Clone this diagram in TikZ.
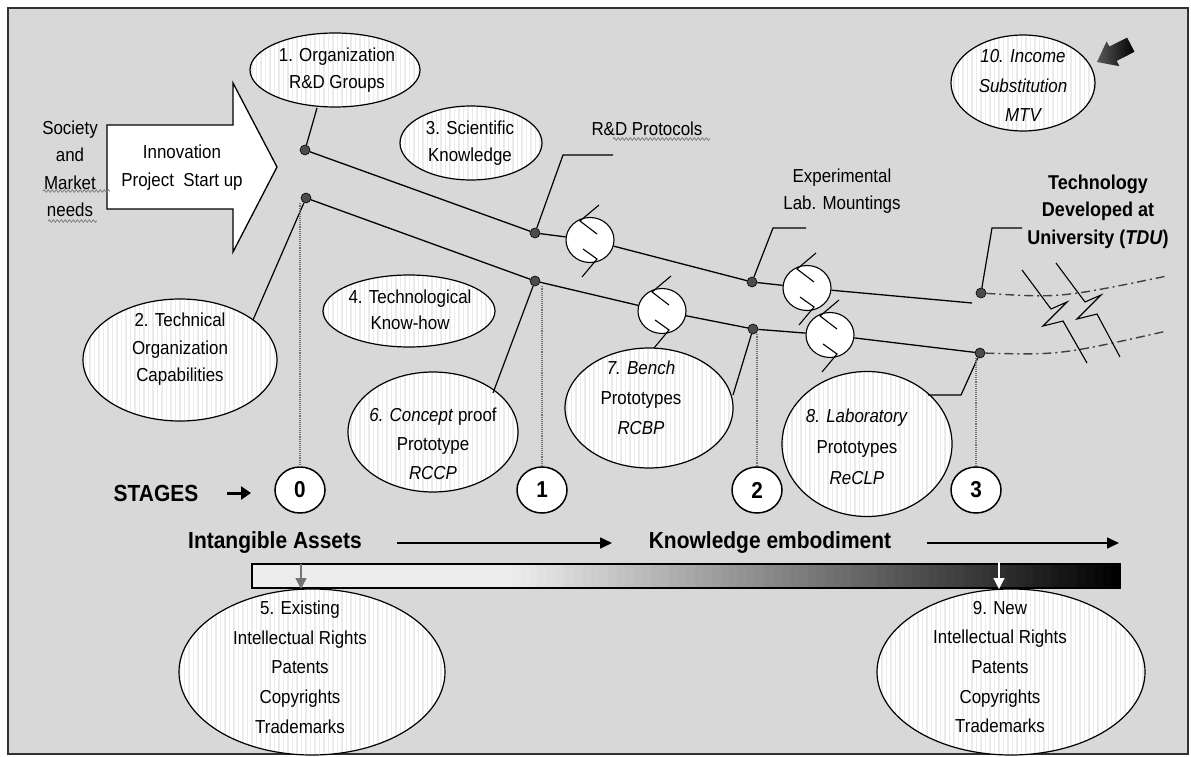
\documentclass[tikz,border=0pt]{standalone}
\usepackage{fontspec}
\setmainfont{Liberation Sans}[FakeStretch=0.9]
\usetikzlibrary{shapes.geometric,patterns.meta,arrows.meta,decorations.pathmorphing,calc}
\definecolor{bg}{RGB}{216,216,216}
\definecolor{frm}{RGB}{50,50,50}
\newcommand\vhooks[1]{%
  \draw[hook] ($(#1)+(9,-35)$) -- ($(#1)+(-10,-19)$) -- ($(#1)+(7,-6)$);
  \draw[hook] ($(#1)+(-7,9)$) -- ($(#1)+(7,19)$) -- ($(#1)+(-8,37)$);}
\tikzset{
  bub/.style={ellipse, draw=black, line width=1.2, preaction={fill=white},
    pattern={Lines[angle=90,distance=4.5pt,line width=1.5pt]}, pattern color=black!8, inner sep=0},
  txt/.style={align=center, inner sep=0, font=\fontsize{18.8}{28}\selectfont},
  btxt/.style={align=center, inner sep=0, font=\bfseries\fontsize{23.3}{26}\selectfont},
  dotn/.style={circle, draw=black, fill=black!70, minimum size=10, inner sep=0, line width=0.6},
  valve/.style={ellipse, draw=black, fill=white, minimum width=48, minimum height=45, inner sep=0, line width=1.1},
  stage/.style={ellipse, draw=black, fill=white, minimum width=50, minimum height=46, inner sep=0, line width=1.5,
    font=\bfseries\fontsize{23}{23}\selectfont},
  link/.style={line width=1.3},
  hook/.style={line width=1.1},
  con/.style={line width=1.2},
  dotl/.style={densely dotted, line width=1.1, black!55},
  dd/.style={line width=1.4, black!75, dash pattern=on 9pt off 4pt on 2pt off 4pt},
  sq/.style={decorate, decoration={snake, amplitude=1.3pt, segment length=4pt}, black!50, line width=0.8},
  barr/.style={line width=1.6, -{Triangle[length=12,width=11]}}
}
\begin{document}
\begin{tikzpicture}[x=1pt,y=-1pt]
\useasboundingbox (0,0) rectangle (1191,757);
\fill[white] (0,0) rectangle (1191,757);
\draw[frm, fill=bg, line width=1.5] (8,8) rectangle (1188,754);

% big arrow
\draw[line width=1.3, fill=white] (107,125) -- (233,125) -- (233,83) -- (277,167) -- (233,252) -- (233,209) -- (107,209) -- cycle;
\node[txt] (inn) at (182,168) {Innovation\\Project~~Start up};
\node[txt, font=\fontsize{18.8}{27.5}\selectfont] (soc) at (70,169) {Society\\and\\Market\\needs};
\draw[sq] (43,191) -- (110,191);
\draw[sq] (48,221) -- (97,221);

% dark arrow
\shade[left color=black!65, right color=black] (1097,62) -- (1106.6,41.4) -- (1109.3,46.5) -- (1127.1,37.6) -- (1134.5,51.8) -- (1116.7,60.9) -- (1119.4,66.2) -- cycle;

% bubbles
\node[bub, minimum width=170, minimum height=74] (e1) at (335,70) {};
\node[txt, font=\fontsize{18.8}{27}\selectfont] (e1t) at (337,70.5) {1. Organization\\R\&D Groups};
\node[bub, minimum width=142, minimum height=74] (e3) at (471,143) {};
\node[txt, font=\fontsize{18.8}{27}\selectfont] (e3t) at (470,143.5) {3. Scientific\\Knowledge};
\node[bub, minimum width=144, minimum height=96] (e10) at (1023,83) {};
\node[txt, font=\itshape\fontsize{18.8}{29.5}\selectfont] (e10t) at (1023,85.5) {10. Income\\Substitution\\MTV};
\node[bub, minimum width=194, minimum height=122] (e2) at (180,360) {};
\node[txt, font=\fontsize{18.8}{27.5}\selectfont] (e2t) at (180,349.5) {2. Technical\\Organization\\Capabilities};
\node[bub, minimum width=172, minimum height=72] (e4) at (409,311) {};
\node[txt, font=\fontsize{18.8}{26}\selectfont] (e4t) at (410,310) {4. Technological\\Know-how};
\node[bub, minimum width=170, minimum height=120] (e6) at (433,432) {};
\node[txt, font=\fontsize{18.8}{29}\selectfont] (e6t) at (433,444) {\textit{6. Concept} proof\\Prototype\\\textit{RCCP}};
\node[bub, minimum width=168, minimum height=120] (e7) at (649,408) {};
\node[txt, font=\fontsize{18.8}{30}\selectfont] (e7t) at (641,398) {\textit{7. Bench}\\Prototypes\\\textit{RCBP}};
\node[bub, minimum width=170, minimum height=145] (e8) at (867,444) {};
\node[txt, font=\fontsize{18.8}{31}\selectfont] (e8t) at (857,447) {\textit{8. Laboratory}\\Prototypes\\\textit{ReCLP}};
\node[bub, minimum width=266, minimum height=166] (e5) at (312,672) {};
\node[txt, font=\fontsize{18.8}{29.7}\selectfont] (e5t) at (300,667) {5. Existing\\Intellectual Rights\\Patents\\Copyrights\\Trademarks};
\node[bub, minimum width=268, minimum height=166] (e9) at (1011,672) {};
\node[txt, font=\fontsize{18.8}{29.7}\selectfont] (e9t) at (1000,667) {9. New\\Intellectual Rights\\Patents\\Copyrights\\Trademarks};

% free labels
\node[txt] (rdp) at (647,129) {R\&D~Protocols};
\draw[sq] (613,139) -- (710,139);
\node[txt, font=\fontsize{18.8}{27}\selectfont] (exp) at (842,191.5) {Experimental\\Lab. Mountings};
\node[txt, font=\bfseries\fontsize{20}{27.5}\selectfont] (tdu) at (1098,211.5) {Technology\\Developed at\\University (\textit{TDU})};

% chain nodes
\node[dotn] (d1) at (305,150) {};
\node[dotn] (u1) at (535,233) {};
\node[valve] (v1) at (590,240) {};
\node[dotn] (u2) at (752,282) {};
\node[valve] (v2) at (807,288) {};
\coordinate (ue) at (972,303);
\node[dotn] (u3) at (981,293) {};
\node[dotn] (d2) at (306,198) {};
\node[dotn] (l1) at (535,281) {};
\node[valve] (v3) at (662,311) {};
\node[dotn] (l2) at (753,329) {};
\node[valve] (v4) at (830,335) {};
\node[dotn] (l3) at (980,353) {};

\draw[link] (d1) -- (u1) -- (v1) -- (u2) -- (v2) -- (ue);
\draw[link] (d2) -- (l1) -- (v3) -- (l2) -- (v4) -- (l3);
\vhooks{v1}\vhooks{v2}\vhooks{v3}\vhooks{v4}

% dash-dot continuation
\coordinate (ue1) at (1167,276);
\coordinate (le1) at (1167,331);
\draw[dd] (u3) .. controls (1060,298) .. (ue1);
\draw[dd] (l3) .. controls (1060,355) .. (le1);

% break marks
\draw[line width=1.1] (1022,270) -- (1051,309) -- (1067,302) -- (1043,326) -- (1063,321) -- (1087,363);
\draw[line width=1.1] (1056,263) -- (1085,302) -- (1101,295) -- (1077,319) -- (1097,314) -- (1120,357);

% connectors
\coordinate (k1) at (317,108);
\draw[con] (k1) -- (d1);
\coordinate (k2) at (253,320);
\draw[con] (k2) -- (d2);
\coordinate (r1) at (563,155); \coordinate (r2) at (613,155);
\draw[con] (u1) -- (r1) -- (r2);
\coordinate (x1) at (773,228); \coordinate (x2) at (806,228);
\draw[con] (u2) -- (x1) -- (x2);
\coordinate (t1) at (992,228); \coordinate (t2) at (1022,228);
\draw[con] (u3) -- (t1) -- (t2);
\coordinate (k6) at (493,393);
\draw[con] (k6) -- (l1);
\coordinate (k7) at (733,395);
\draw[con] (k7) -- (l2);
\coordinate (k8a) at (928,395); \coordinate (k8b) at (961,395);
\draw[con] (k8a) -- (k8b) -- (l3);

% stages
\node[stage] (c0) at (300,490) {0};
\node[stage] (c1) at (542,490) {1};
\node[stage] (c2) at (757,490) {2};
\node[stage] (c3) at (976,490) {3};
\draw[dotl] (c0.north |- d2.south) -- (c0.north);
\draw[dotl] (c1.north |- l1.south) -- (c1.north);
\draw[dotl] (c2.north |- l2.south) -- (c2.north);
\draw[dotl] (c3.north |- l3.south) -- (c3.north);
\node[btxt] (stg) at (156,493) {STAGES};
\coordinate (sa) at (227,493); \coordinate (sb) at (251,493);
\draw[line width=3, -{Triangle[length=10,width=13]}] (sa) -- (sb);

% bottom labels
\node[btxt] (ia) at (275,543) {Intangible Assets};
\node[btxt] (ke) at (770,543) {Knowledge embodiment};
\coordinate (a1) at (397,543); \coordinate (a2) at (612,543);
\coordinate (a3) at (927,543); \coordinate (a4) at (1119,543);
\draw[barr] (a1) -- (a2);
\draw[barr] (a3) -- (a4);

% gradient bar
\foreach \i in {0,...,99} {
  \pgfmathsetmacro\xa{252+\i*8.68}
  \pgfmathsetmacro\tt{(\i+0.5)/100}
  \pgfmathsetmacro\pp{\tt<0.3 ? 7 : 7+(\tt-0.3)/0.7*93}
  \fill[black!\pp] (\xa,564) rectangle ++(8.95,24);
}
\node[draw=black, line width=1.2, minimum width=868, minimum height=24, inner sep=0] (bar) at (686,576) {};
\coordinate (g1) at (301,564); \coordinate (g2) at (301,589);
\draw[black!55, line width=1.3, -{Triangle[length=11,width=11]}] (g1) -- (g2);
\coordinate (w1) at (999,562); \coordinate (w2) at (999,589);
\draw[white, line width=1.3, -{Triangle[length=11,width=11]}] (w1) -- (w2);
\end{tikzpicture}
\end{document}
